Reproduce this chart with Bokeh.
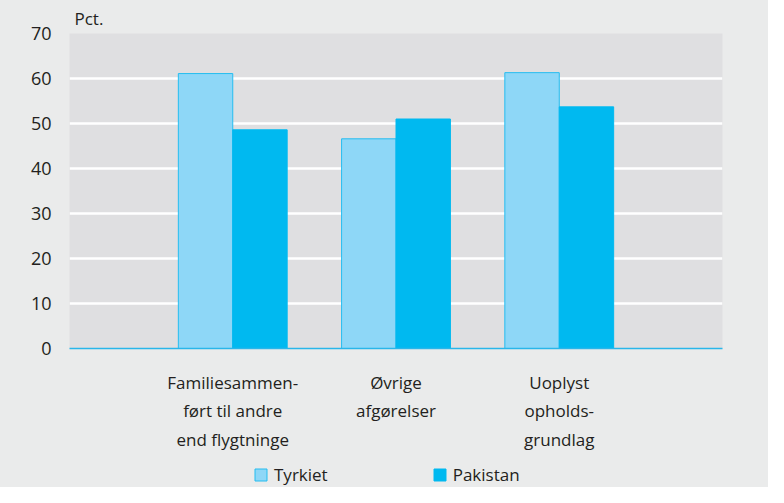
from bokeh.plotting import figure
from bokeh.layouts import column
from bokeh.models import FixedTicker, Legend, LegendItem, ColumnDataSource
from bokeh.embed import file_html
from bokeh.resources import INLINE

categories = ["Familiesammen-\nført til andre\nend flygtninge", "Øvrige\nafgørelser", "Uoplyst\nopholds-\ngrundlag"]
cat_pos = [1, 2, 3]
tyrkiet = [61.1, 46.6, 61.3]
pakistan = [48.6, 51.0, 53.7]
y_ticks = [0, 10, 20, 30, 40, 50, 60, 70]
series_names = ["Tyrkiet", "Pakistan"]

FONT = "Open Sans"
TXT = "#231f20"
BG = "#eaebeb"
C_T = "#8ed7f7"
C_T_LINE = "#25bdf0"
C_P = "#00b9f0"

p = figure(width=768, height=454, output_backend="svg", toolbar_location=None,
           x_range=(0, 4), y_range=(0, 70),
           min_border_left=69, min_border_right=46, min_border_top=33, min_border_bottom=106)
p.background_fill_color = "#dfdfe1"
p.border_fill_color = BG
p.outline_line_color = None

src = ColumnDataSource(dict(
    xt=[c - 1/6 for c in cat_pos], xp=[c + 1/6 for c in cat_pos],
    t=tyrkiet, pk=pakistan))

p.vbar(x="xt", top="t", width=1/3, source=src, fill_color=C_T, line_color=C_T_LINE, line_width=1)
p.vbar(x="xp", top="pk", width=1/3, source=src, fill_color=C_P, line_color=C_P, line_width=1)

p.xgrid.grid_line_color = None
p.ygrid.grid_line_color = "white"
p.ygrid.grid_line_width = 2.5
p.ygrid.ticker = FixedTicker(ticks=y_ticks)

p.yaxis.ticker = FixedTicker(ticks=y_ticks)
p.yaxis.axis_line_color = None
p.yaxis.major_tick_line_color = None
p.yaxis.minor_tick_line_color = None
p.yaxis.major_label_text_font = FONT
p.yaxis.major_label_text_font_size = "18px"
p.yaxis.major_label_text_color = TXT
p.yaxis.major_label_standoff = 12

p.xaxis.ticker = FixedTicker(ticks=cat_pos)
p.xaxis.major_label_overrides = {c: lab for c, lab in zip(cat_pos, categories)}
p.xaxis.axis_line_color = "#29b6ea"
p.xaxis.axis_line_width = 1.5
p.xaxis.major_tick_line_color = None
p.xaxis.minor_tick_line_color = None
p.xaxis.major_label_text_font = FONT
p.xaxis.major_label_text_font_size = "17px"
p.xaxis.major_label_text_color = TXT
p.xaxis.major_label_text_line_height = 1.25
p.xaxis.major_label_standoff = 16

p.title.text = "Pct."
p.title.text_font = FONT
p.title.text_font_size = "17px"
p.title.text_font_style = "normal"
p.title.text_color = TXT
p.title.align = "left"
p.title.offset = 5
p.title.standoff = 7

# legend strip (bars here lie outside its y range, only the legend shows)
lg = figure(width=768, height=33, output_backend="svg", toolbar_location=None,
            x_range=(0, 4), y_range=(1000, 1001), x_axis_type=None, y_axis_type=None,
            min_border_left=69, min_border_right=46, min_border_top=0, min_border_bottom=0)
lg.background_fill_color = BG
lg.border_fill_color = BG
lg.outline_line_color = None
g1 = lg.vbar(x="xt", top="t", width=1/3, source=src, fill_color=C_T, line_color=C_T_LINE, line_width=1)
g2 = lg.vbar(x="xp", top="pk", width=1/3, source=src, fill_color=C_P, line_color=C_P, line_width=1)
legend = Legend(items=[LegendItem(label=series_names[0], renderers=[g1]),
                       LegendItem(label=series_names[1], renderers=[g2])],
                orientation="horizontal", location=(184, 1),
                label_text_font=FONT, label_text_font_size="17px", label_text_color=TXT,
                glyph_width=15, glyph_height=15, label_height=15, spacing=104, label_standoff=6,
                padding=0, margin=0, border_line_color=None, background_fill_alpha=0)
lg.add_layout(legend, "center")

layout = column(p, lg, spacing=0, background=BG)
open("out.html", "w").write(file_html(layout, INLINE))
